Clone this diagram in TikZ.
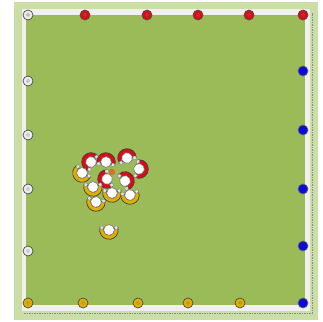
\documentclass[tikz,border=0pt]{standalone}
\usepackage{tikz}
\usetikzlibrary{positioning}

\definecolor{pitch}{RGB}{155,187,89}
\definecolor{pitchedge}{RGB}{202,222,166}
\definecolor{conered}{RGB}{225,10,20}
\definecolor{coneyellow}{RGB}{225,175,0}
\definecolor{conewhite}{RGB}{235,235,235}
\definecolor{coneblue}{RGB}{10,10,220}
\definecolor{ballorange}{RGB}{230,110,20}

\tikzset{
  cone/.style={circle, draw=black!70, line width=0.7pt, fill=#1, minimum size=10pt, inner sep=0pt,
    path picture={\draw[black!55, line width=0.35pt] (path picture bounding box.center) circle[radius=1.5pt];}},
  blue cone/.style={circle, draw=black!60, line width=0.7pt, fill=coneblue, minimum size=10pt, inner sep=0pt},
  player/.pic={
    \draw[black!75, line width=0.7pt, fill=#1] (-105:9.3) arc[start angle=-105, end angle=105, radius=9.3]
      -- (105:5.2) arc[start angle=105, end angle=-105, radius=5.2] -- cycle;
    \foreach \s in {-1,1}
      \draw[black!50, fill=black!10, line width=0.35pt, rotate=\s*108] (6.1,-1.5) rectangle (9.1,1.5);
    \draw[black!55, fill=white, line width=0.6pt] (0,0) circle[radius=5.4];
  }
}

\begin{document}
\begin{tikzpicture}[x=1pt, y=1pt]
        \useasboundingbox (0,0) rectangle (323,321);
        % Pitch
        \fill[pitchedge] (14,1) rectangle (318,319);
        \fill[white!94!black] (22,10) rectangle (310,312);
        \fill[pitch] (26,16) rectangle (305,306);
        \draw[black!45, dashed, line width=0.6pt, dash pattern=on 1.5pt off 1pt] (24,8) -- (312,8) -- (312,308);

        % Cones
        \node (cw1) [cone=conewhite] at (28,306) {};
        \foreach \y [count=\i from 2] in {240,186,132,70}
          \node (cw\i) [cone=conewhite] at (28,\y) {};
        \foreach \x [count=\i] in {85,147,198,249,303}
          \node (cr\i) [cone=conered] at (\x,306) {};
        \foreach \x [count=\i] in {28,83,138,188,240}
          \node (cy\i) [cone=coneyellow] at (\x,18) {};
        \foreach \y [count=\i] in {250,191,132,75,18}
          \node (cb\i) [blue cone] at (303,\y) {};

        % Red team
        \pic (red1) [rotate=150] at (91,159) {player=conered};
        \pic (red2) [rotate=85] at (106,159) {player=conered};
        \pic (red3) [rotate=110] at (127,163) {player=conered};
        \pic (red4) [rotate=-10] at (139,152) {player=conered};

        % Ball
        \node (ball) [circle, fill=ballorange, draw=black!50, line width=0.3pt, minimum size=6pt, inner sep=0pt] at (112,149) {};

        % Yellow team
        \pic (yel1) [rotate=230] at (82,148) {player=coneyellow};
        \pic (red5) [rotate=200] at (107,142) {player=conered};
        \pic (red6) [rotate=30] at (125,140) {player=conered};
        \pic (yel2) [rotate=270] at (93,134) {player=coneyellow};
        \pic (yel3) [rotate=270] at (112,128) {player=coneyellow};
        \pic (yel4) [rotate=280] at (130,126) {player=coneyellow};
        \pic (yel5) [rotate=260] at (96,119) {player=coneyellow};
        \pic (yel6) [rotate=270] at (109,91) {player=coneyellow};
    \end{tikzpicture}
\end{document}
